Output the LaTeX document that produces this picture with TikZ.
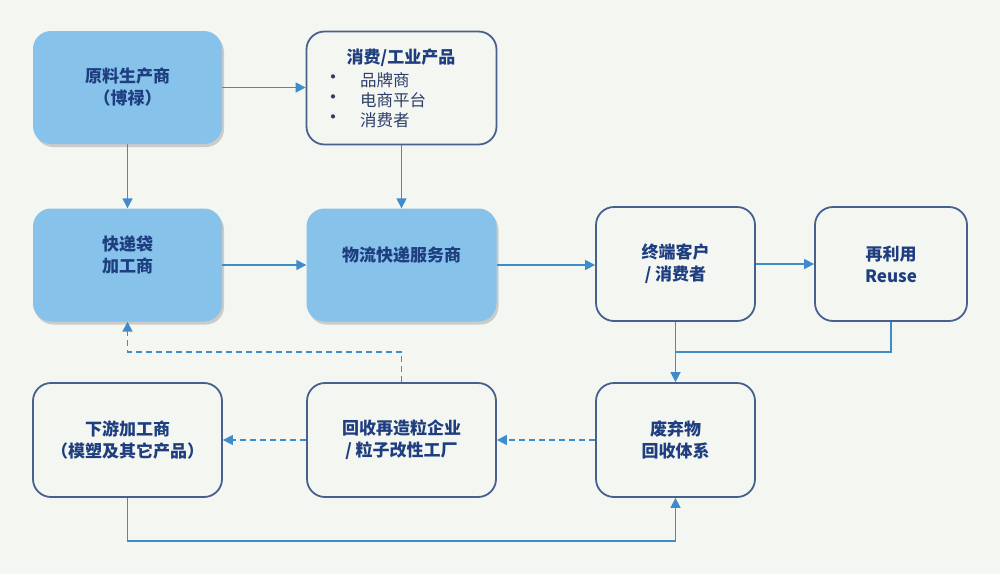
\documentclass[tikz,border=0pt]{standalone}
\usepackage{fontspec}
\setmainfont{Noto Sans CJK SC}[BoldFont={Noto Sans CJK SC Black}]
\usetikzlibrary{arrows.meta,shadows,calc}
\definecolor{bgc}{RGB}{244,246,241}
\definecolor{fillblue}{RGB}{134,194,233}
\definecolor{txtblue}{RGB}{30,62,128}
\definecolor{bordc}{RGB}{72,96,142}
\definecolor{arrc}{RGB}{62,140,204}
\definecolor{itemc}{RGB}{45,62,105}
\tikzset{
  boxbase/.style={rectangle, rounded corners=18pt, inner sep=0pt, align=center,
    text=txtblue, font=\fontsize{17}{22}\selectfont\bfseries},
  bluebox/.style={boxbase, fill=fillblue, draw=none,
    drop shadow={opacity=0.35, shadow xshift=2pt, shadow yshift=-3pt}},
  whitebox/.style={boxbase, fill=bgc, draw=bordc, line width=1.8pt},
  conn/.style={draw=arrc, line width=1.5pt, -{Triangle[length=10pt,width=10pt]}},
  plainconn/.style={draw=arrc, line width=1.5pt},
  dconn/.style={conn, dash pattern=on 6pt off 4pt},
  itemtxt/.style={text=itemc, font=\fontsize{16.5}{20}\selectfont, inner sep=0pt},
}
\begin{document}
\begin{tikzpicture}[x=1pt, y=-1pt]
\fill[bgc] (0,0) rectangle (1000,574);
\useasboundingbox (0,0) rectangle (1000,574);
% boxes
\node[bluebox, minimum width=189pt, minimum height=113pt] (b1) at (127.5,87.5) {原料生产商\\（博禄）};
\node[whitebox, minimum width=190pt, minimum height=113pt] (b2) at (401.5,88) {};
\node[bluebox, minimum width=189pt, minimum height=113pt] (b3) at (127.5,265) {快递袋\\加工商\\\mbox{}};
\node[bluebox, minimum width=190pt, minimum height=113pt] (b4) at (401.5,265) {物流快递服务商\\\mbox{}};
\node[whitebox, minimum width=159pt, minimum height=114pt] (b5) at (675.5,264) {终端客户\\/ 消费者};
\node[whitebox, minimum width=152pt, minimum height=114pt] (b6) at (891,264) {再利用\\Reuse};
\node[whitebox, minimum width=189pt, minimum height=114pt] (b7) at (127.5,440) {下游加工商\\（模塑及其它产品）};
\node[whitebox, minimum width=189pt, minimum height=114pt] (b8) at (401.5,440) {回收再造粒企业\\/ 粒子改性工厂};
\node[whitebox, minimum width=159pt, minimum height=114pt] (b9) at (675.5,440) {废弃物\\回收体系};
% box 2 text
\node[text=txtblue, font=\fontsize{17}{22}\selectfont\bfseries, inner sep=0pt] (t2) at (401,58) {消费/工业产品};
\node[itemtxt, font=\fontsize{20}{20}\selectfont] (d1) at (333,80) {•};
\node[itemtxt, font=\fontsize{20}{20}\selectfont] (d2) at (333,100) {•};
\node[itemtxt, font=\fontsize{20}{20}\selectfont] (d3) at (333,120) {•};
\node[itemtxt, anchor=west] (i1) at (360,80) {品牌商};
\node[itemtxt, anchor=west] (i2) at (360,100) {电商平台};
\node[itemtxt, anchor=west] (i3) at (360,120) {消费者};
% coordinates
\coordinate (j) at (675.5,352);
\coordinate (k) at (264,352);
\coordinate (m) at (400,541);
% connectors
\draw[conn] (b1.east) -- (b2.west |- b1.east);
\draw[conn] (b1.south) -- (b3.north);
\draw[conn] (b2.south) -- (b4.north);
\draw[conn] (b3.east) -- (b4.west);
\draw[conn] (b4.east) -- (b5.west |- b4.east);
\draw[conn] (b5.east) -- (b6.west);
\draw[conn] (b5.south) -- (b9.north);
\draw[plainconn] (b6.south) |- (j);
\draw[dconn] (b9.west) -- (b8.east);
\draw[dconn] (b8.west) -- (b7.east);
\draw[dconn] (b8.north) |- (k) -| (b3.south);
\draw[conn] (b7.south) |- (m) -| (b9.south);
\end{tikzpicture}
\end{document}
